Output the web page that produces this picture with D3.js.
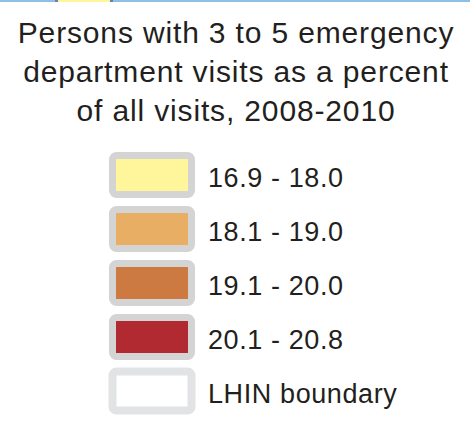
<!DOCTYPE html>
<html>
<head>
<meta charset="utf-8">
<script src="https://cdn.jsdelivr.net/npm/d3@7"></script>
<style>
  body { margin: 0; background: #fff; }
  svg { display: block; }
</style>
</head>
<body>
<div id="chart"></div>
<script>
// title lines
var titleLines = [
    "Persons with 3 to 5 emergency",
    "department visits as a percent",
    "of all visits, 2008-2010"
];

// legend classes
var classLabels = ["16.9 - 18.0", "18.1 - 19.0", "19.1 - 20.0", "20.1 - 20.8", "LHIN boundary"];
var classFills = ["#fff59a", "#e8ae63", "#cd7942", "#b22a31", "#ffffff"];
var classStrokes = ["#d4d4d4", "#d4d4d4", "#d4d4d4", "#d4d4d4", "#e2e3e5"];

var svg = d3.select("#chart").append("svg")
    .attr("width", 470)
    .attr("height", 430);

// strip of map edge along the top
svg.append("rect")
    .attr("x", 0).attr("y", 0)
    .attr("width", 470).attr("height", 2)
    .style("fill", "#8ec0e6");
svg.append("rect")
    .attr("x", 55).attr("y", 0)
    .attr("width", 58).attr("height", 2)
    .style("fill", "#6a7fb0");
svg.append("rect")
    .attr("x", 58).attr("y", 0)
    .attr("width", 52).attr("height", 2)
    .style("fill", "#fff59a");

// title
var title = svg.append("text")
    .attr("text-anchor", "middle")
    .style("font-family", "'Liberation Sans', Arial, sans-serif")
    .style("font-size", "30px")
    .style("letter-spacing", "0.85px")
    .style("fill", "#231f20");

title.selectAll("tspan")
    .data(titleLines)
    .enter().append("tspan")
    .attr("x", 236)
    .attr("y", function(d, i) { return 43 + i * 39; })
    .text(function(d) { return d; });

// legend rows
var y = d3.scaleBand()
    .domain(d3.range(classLabels.length))
    .range([152, 414])
    .paddingInner(0.15)
    .paddingOuter(0);

var rows = svg.selectAll("g.row")
    .data(classLabels)
    .enter().append("g")
    .attr("class", "row")
    .attr("transform", function(d, i) { return "translate(0," + y(i) + ")"; });

// swatch: thick rounded grey frame round the class colour
rows.append("rect")
    .attr("x", 112.5)
    .attr("y", 3.5)
    .attr("width", 79)
    .attr("height", 39)
    .attr("rx", 4)
    .attr("ry", 4)
    .style("fill", function(d, i) { return classFills[i]; })
    .style("stroke", function(d, i) { return classStrokes[i]; })
    .style("stroke-width", function(d, i) { return i === 4 ? 8 : 7; });

rows.append("text")
    .attr("x", 208)
    .attr("y", 34.5)
    .style("font-family", "'Liberation Sans', Arial, sans-serif")
    .style("font-size", "27px")
    .style("letter-spacing", "0.6px")
    .style("fill", "#231f20")
    .text(function(d) { return d; });
</script>
</body>
</html>
